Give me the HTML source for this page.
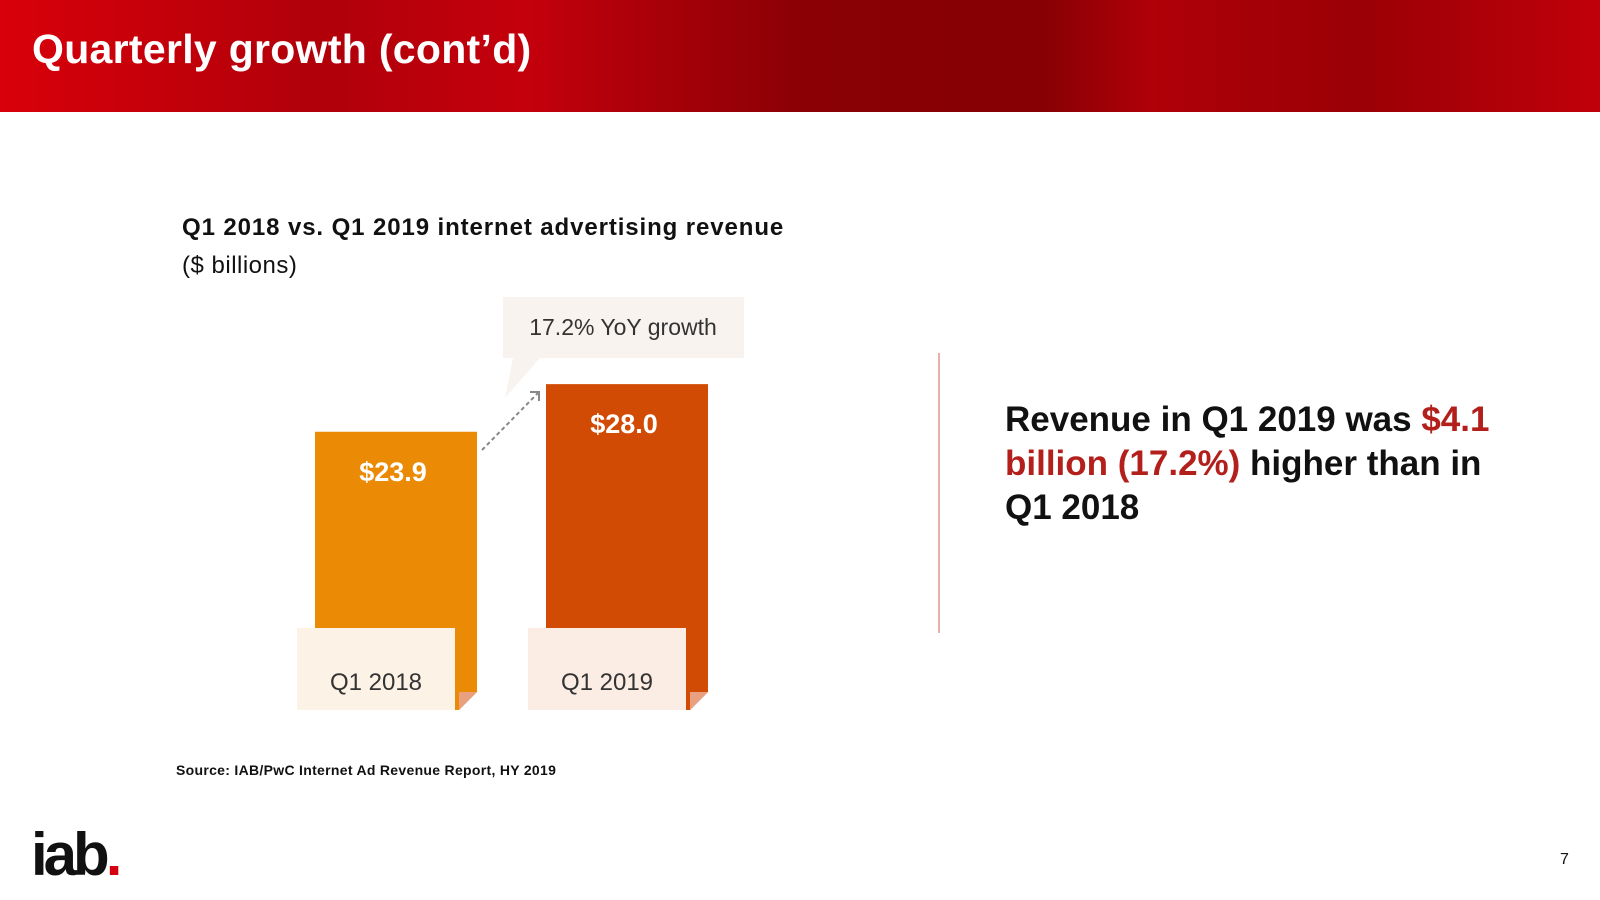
<!DOCTYPE html>
<html><head><meta charset="utf-8"><style>
body{margin:0;width:1600px;height:900px;position:relative;background:#fff;font-family:"Liberation Sans",sans-serif;overflow:hidden}
.abs{position:absolute}
</style></head><body>
<div class="abs" style="left:0;top:0;width:1600px;height:112px;background:linear-gradient(90deg,#d8000a 0%,#b0000a 20%,#c4000c 33%,#8a0005 50%,#860004 65%,#b00008 72%,#9a0006 85%,#c0000a 100%)"></div>
<div class="abs" style="left:32px;top:26px;color:#fff;font-weight:bold;font-size:41px;letter-spacing:0.3px">Quarterly growth (cont’d)</div>
<div class="abs" style="left:182px;top:214px;font-weight:bold;font-size:24px;letter-spacing:0.9px;color:#111">Q1 2018 vs. Q1 2019 internet advertising revenue</div>
<div class="abs" style="left:182px;top:252px;font-size:24px;letter-spacing:0.5px;color:#111">($ billions)</div>
<svg class="abs" style="left:0;top:0" width="1600" height="900" id="chart"></svg>
<div class="abs" style="left:938px;top:353px;width:2px;height:280px;background:#e8b0ac"></div>
<div class="abs" style="left:1005px;top:398px;width:500px;font-weight:bold;font-size:35px;line-height:44px;color:#111">Revenue in Q1 2019 was <span style="color:#b3201c">$4.1 billion (17.2%)</span> higher than in Q1 2018</div>
<div class="abs" style="left:176px;top:762px;font-weight:bold;font-size:14px;letter-spacing:0.3px;color:#111">Source: IAB/PwC Internet Ad Revenue Report, HY 2019</div>
<div class="abs" style="left:31px;top:820px;font-weight:bold;font-size:60px;letter-spacing:-4px;color:#111">iab<span style="color:#d40010">.</span></div>
<div class="abs" style="left:1560px;top:851px;font-size:16px;color:#111">7</div>
<script>
const categories=["Q1 2018","Q1 2019"];
const values=[23.9,28.0];
const valueLabels=["$23.9","$28.0"];
const growthLabel="17.2% YoY growth";
const NS="http://www.w3.org/2000/svg";
const svg=document.getElementById("chart");
const baseY=710, scale=11.64;
const xPos=i=>315+i*231, barW=162;
const yPos=v=>baseY-v*scale;
const colors=["#eb8a05","#d24b05"];
const boxFill=["#fcf2e6","#fbece4"];
function mk(t,a){const e=document.createElementNS(NS,t);for(const k in a)e.setAttribute(k,a[k]);svg.appendChild(e);return e;}
let c=mk("path",{d:"M503 297 H744 V358 H540 L505 398 L513 358 H503 Z",fill:"#f8f3ef"});


let ct=mk("text",{x:623,y:335,"text-anchor":"middle","font-size":23,fill:"#333"});ct.textContent=growthLabel;


categories.forEach((cat,i)=>{
 const x=xPos(i), top=yPos(values[i]);
 const b=mk("path",{d:`M${x} ${top} H${x+barW} V${baseY-18} L${x+barW-18} ${baseY} H${x} Z`,fill:colors[i]});
 
 
 mk("path",{d:`M${x+barW} ${baseY-18} L${x+barW-18} ${baseY} V${baseY-18} Z`,fill:"#e8a080"});
 const v=mk("text",{x:x+78,y:top+49,"text-anchor":"middle","font-size":27,"font-weight":"bold",fill:"#fff"});v.textContent=valueLabels[i];
 
 
 const bx=mk("rect",{x:x-18,y:628,width:158,height:82,fill:boxFill[i]});
 
 
 const t=mk("text",{x:x+61,y:690,"text-anchor":"middle","font-size":24,fill:"#333"});t.textContent=cat;
 
 
});
const a=mk("line",{x1:482,y1:450,x2:538,y2:393,stroke:"#888","stroke-width":2,"stroke-dasharray":"4 3"});


mk("path",{d:"M530 392 L539 392 L539 401",fill:"none",stroke:"#888","stroke-width":2});
</script>
</body></html>
